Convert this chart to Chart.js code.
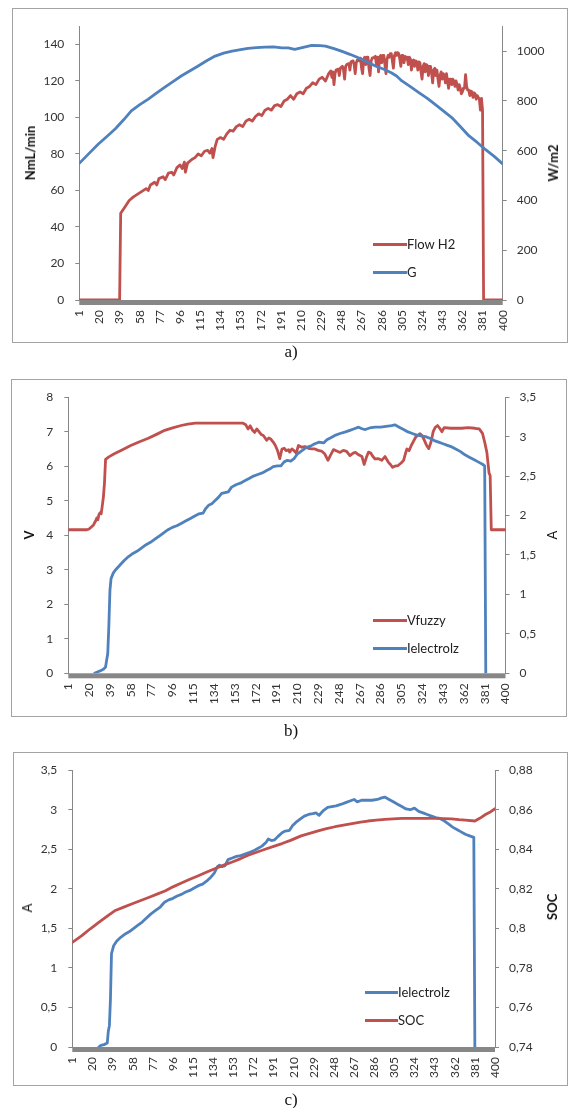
<!DOCTYPE html>
<html>
<head>
<meta charset="utf-8">
<script src="https://cdn.jsdelivr.net/npm/chart.js@4/dist/chart.umd.min.js"></script>
<style>
  html, body { margin: 0; padding: 0; background: #fff; }
  body { width: 574px; height: 1108px; position: relative; overflow: hidden; font-family: Lato, "Open Sans", sans-serif; }
  .frame { position: absolute; border: 1px solid #a3a3a3; box-sizing: border-box; }
  canvas.plot { position: absolute; }
  .atitle { position: absolute; font-size: 13px; color: #111; white-space: nowrap; transform: translate(-50%, -50%) rotate(-90deg); }
  .atitle.bold { font-weight: bold; }
  .lg-line { position: absolute; height: 3px; }
  .lg-text { position: absolute; font-size: 13px; color: #222; white-space: nowrap; transform: translateY(-50%); }
  .cap { position: absolute; font-family: "Liberation Serif", "DejaVu Serif", serif; font-size: 17px; color: #111; transform: translate(-50%, -50%); }
</style>
</head>
<body>
<script>
// ---- shared category ticks (every 19th sample) ----
const xTickLabels = [1,20,39,58,77,96,115,134,153,172,191,210,229,248,267,286,305,324,343,362,381,400];

// ---- a) hydrogen flow and irradiance ----
const flowTicks = [0,20,40,60,80,100,120,140];
const irradianceTicks = [0,200,400,600,800,1000];
const flowH2 = [
  [1,0],[39,0],[40,47.5],[44,51],[48,54.5],[52,56.5],[56,58],[60,59.5],[64,61],[66,60],[68,63],
  [72,64.5],[74,63],[76,66.5],[80,67.5],[82,66],[85,69.5],[88,70],[90,68.5],[93,72.5],[96,74],
  [98,72],[100,75.5],[101,70],[103,75],[107,77],[110,78],[113,80],[116,79],[119,81.5],[122,82],
  [124,80.5],[126,83],[127,78],[129,84],[131,88],[134,89],[137,88],[140,91],[143,93],[146,92.5],
  [149,95],[152,96],[155,95],[158,98],[161,99],[164,98],[167,100.5],[170,102],[173,101],[176,104],
  [179,105],[182,104],[185,106.5],[188,107],[191,106],[194,109],[197,110],[200,112],[203,110],
  [206,113],[209,114],[212,113],[215,116],[218,117],[221,119],[224,118],[227,121],[230,122],
  [233,120],[236,124],[238,125.5],[239,122],[240,125],[241,118],[242,124],[243,126],[245,126.5],
  [246,123],[247,127],[249,128],[250,126],[251,121],[252,128],[253,129],[255,129.5],[256,126],
  [257,130.5],[259,131],[260,129],[261,124],[262,130],[263,131.5],[265,131],[266,132.5],[267,127],
  [268,124],[269,132],[270,133],[271,129],[272,133],[273,133],[274,127],[275,123],[276,131],
  [277,132.5],[279,133],[280,133.5],[281,129],[282,133],[283,125],[284,133],[285,134],[286,130],
  [287,134],[288,134],[289,129],[290,124],[291,132],[292,134],[293,133],[294,135],[295,135],
  [296,131],[297,127],[298,134],[299,135.5],[300,134],[301,135.5],[302,135],[303,132],[304,128],
  [305,134],[306,134],[307,130],[308,133.5],[309,132],[310,133],[311,129],[312,133],[313,132],
  [314,126],[315,131],[316,131.5],[317,128],[318,131],[319,130.5],[320,126],[321,130.5],[322,130],
  [323,125],[324,121],[325,128],[326,129.5],[327,125],[328,129],[329,128.5],[330,123],[331,128],
  [332,128],[333,124],[334,119],[335,126],[336,127],[337,123],[338,126],[339,121],[340,117],
  [341,123],[342,125],[343,121],[344,124],[345,123],[346,119],[347,124],[348,120],[349,116],
  [350,121],[351,121],[352,118],[353,121],[354,120],[355,117],[356,120],[357,118],[358,115],
  [359,118],[360,116],[361,113],[362,114],[363,116],[364,116],[365,123.5],[366,117],[367,115],
  [368,115],[369,112],[370,114.5],[371,114],[372,111],[373,113.5],[374,113],[375,110],[376,112],
  [377,111],[378,110],[379,104],[380,110.5],[381,104],[382,0],[400,0]
];
const irradianceG = [
  [1,549],[10,588],[19,627],[27,657],[35,688],[43,725],[50,760],[58,785],[66,807],[74,832],
  [82,856],[90,879],[97,900],[105,920],[113,940],[121,961],[129,980],[137,992],[145,1000],
  [153,1006],[160,1011],[168,1014],[176,1016],[184,1017],[192,1013],[198,1013],[204,1007],
  [212,1015],[220,1023],[228,1022],[233,1020],[241,1010],[248,1000],[256,987],[264,973],
  [272,957],[280,940],[288,927],[295,913],[300,900],[305,880],[313,857],[321,833],[329,810],
  [336,787],[344,760],[352,733],[360,697],[368,660],[376,633],[383,607],[392,577],[400,547]
];

// ---- b) fuzzy voltage and electrolyser current ----
const voltTicks = [0,1,2,3,4,5,6,7,8];
const currentTicks = [0,0.5,1,1.5,2,2.5,3,3.5];
const vFuzzy = [
  [1,4.16],[18,4.16],[20,4.18],[22,4.24],[24,4.3],[26,4.42],[27,4.5],[28,4.45],[29,4.6],[30,4.65],
  [31,4.62],[32,4.85],[33,5.1],[34,5.5],[35,6.2],[38,6.27],[43,6.36],[50,6.47],[58,6.6],[66,6.71],
  [74,6.81],[82,6.93],[89,7.04],[97,7.12],[104,7.18],[110,7.22],[117,7.25],[160,7.25],[163,7.2],
  [165,7.08],[167,7.17],[169,7.05],[171,6.98],[173,7.08],[175,7.0],[177,6.92],[179,6.89],[181,6.8],
  [182,6.75],[184,6.82],[186,6.78],[188,6.7],[190,6.6],[192,6.45],[194,6.22],[196,6.5],[198,6.52],
  [200,6.45],[202,6.48],[203,6.41],[205,6.5],[207,6.45],[209,6.38],[211,6.6],[214,6.55],[217,6.57],
  [220,6.52],[223,6.5],[226,6.5],[229,6.46],[232,6.44],[235,6.36],[238,6.17],[240,6.3],[243,6.48],
  [246,6.44],[249,6.4],[252,6.46],[255,6.43],[258,6.31],[261,6.38],[263,6.4],[266,6.33],[269,6.28],
  [271,6.05],[273,6.25],[275,6.41],[277,6.38],[279,6.28],[281,6.21],[284,6.22],[287,6.17],[290,6.28],
  [293,6.12],[295,6.05],[297,5.97],[299,6.0],[302,6.02],[305,6.1],[307,6.17],[309,6.4],[310,6.5],
  [312,6.45],[314,6.6],[316,6.72],[318,6.84],[320,6.9],[322,6.94],[324,6.88],[326,6.75],[328,6.6],
  [330,6.51],[332,6.7],[334,7.0],[336,7.13],[338,7.18],[340,7.1],[342,7.0],[344,7.12],[350,7.1],
  [360,7.1],[366,7.12],[372,7.1],[376,7.08],[379,6.95],[381,6.7],[383,6.4],[385,5.8],[386,5.73],
  [387,4.16],[400,4.16]
];
const iElectrolzB = [
  [25,0],[28,0.02],[30,0.03],[33,0.05],[35,0.08],[37,0.25],[38,0.6],[39,1.05],[40,1.2],
  [42,1.27],[44,1.31],[48,1.37],[52,1.43],[56,1.48],[60,1.52],[64,1.55],[68,1.59],[72,1.63],
  [76,1.66],[80,1.7],[84,1.74],[88,1.78],[92,1.82],[96,1.85],[100,1.87],[104,1.9],[108,1.93],
  [112,1.96],[116,1.99],[120,2.02],[124,2.03],[126,2.08],[129,2.13],[132,2.15],[135,2.19],
  [138,2.23],[141,2.28],[144,2.29],[147,2.3],[150,2.36],[154,2.39],[158,2.41],[162,2.44],
  [166,2.47],[170,2.5],[174,2.52],[178,2.54],[182,2.57],[186,2.6],[188,2.62],[192,2.63],[195,2.63],
  [198,2.68],[201,2.7],[204,2.69],[207,2.72],[210,2.78],[214,2.82],[218,2.86],[222,2.88],[226,2.91],
  [230,2.93],[234,2.92],[237,2.96],[241,2.99],[245,3.02],[249,3.04],[254,3.06],[258,3.08],[262,3.1],
  [266,3.12],[269,3.1],[272,3.09],[276,3.11],[281,3.12],[286,3.12],[291,3.13],[296,3.14],[299,3.15],
  [303,3.12],[307,3.09],[311,3.06],[315,3.04],[319,3.02],[323,3.01],[327,3.0],[331,2.98],[335,2.95],
  [339,2.93],[343,2.91],[347,2.89],[351,2.87],[355,2.84],[359,2.81],[363,2.77],[367,2.74],[371,2.71],
  [375,2.68],[379,2.65],[381,2.63],[382,0]
];

// ---- c) electrolyser current and battery state of charge ----
const socTicks = [0.74,0.76,0.78,0.8,0.82,0.84,0.86,0.88];
const iElectrolzC = [
  [26,0],[28,0.02],[31,0.03],[34,0.05],[35,0.2],[36,0.27],[37,0.6],[38,1.18],[40,1.28],
  [43,1.34],[47,1.39],[51,1.43],[55,1.46],[59,1.5],[63,1.54],[67,1.58],[71,1.63],[75,1.68],[79,1.72],
  [84,1.77],[88,1.83],[92,1.86],[96,1.88],[100,1.91],[104,1.93],[108,1.96],[112,1.98],[116,2.01],
  [120,2.04],[124,2.06],[128,2.1],[132,2.15],[135,2.2],[138,2.28],[140,2.3],[142,2.28],[145,2.29],
  [148,2.37],[152,2.39],[156,2.41],[160,2.42],[164,2.44],[168,2.46],[172,2.48],[176,2.51],[180,2.54],
  [184,2.59],[186,2.63],[189,2.61],[192,2.62],[195,2.66],[199,2.71],[202,2.73],[206,2.74],[209,2.8],
  [212,2.84],[216,2.88],[220,2.92],[224,2.94],[228,2.95],[231,2.96],[234,2.93],[238,2.99],[242,3.03],
  [246,3.04],[250,3.05],[255,3.07],[259,3.09],[263,3.11],[267,3.13],[270,3.1],[274,3.12],[279,3.12],
  [284,3.12],[289,3.13],[293,3.15],[296,3.16],[300,3.13],[304,3.1],[308,3.07],[312,3.04],[316,3.01],
  [320,3.0],[324,3.02],[328,2.98],[332,2.96],[336,2.94],[340,2.92],[344,2.9],[348,2.89],[352,2.86],
  [356,2.82],[360,2.78],[364,2.75],[368,2.72],[372,2.69],[376,2.67],[380,2.65],[381,0]
];
const soc = [
  [1,0.7929],[10,0.7963],[18,0.7998],[26,0.803],[34,0.8062],[41,0.8089],[49,0.8106],[57,0.8123],
  [65,0.814],[73,0.8156],[81,0.8173],[89,0.819],[96,0.821],[104,0.8229],[112,0.8248],[120,0.8266],
  [128,0.8285],[136,0.8303],[144,0.832],[152,0.8336],[160,0.8353],[167,0.837],[175,0.8385],[183,0.84],
  [191,0.8415],[199,0.8429],[207,0.8445],[217,0.8468],[225,0.848],[233,0.8493],[241,0.8504],
  [249,0.8514],[257,0.8522],[265,0.853],[273,0.8537],[280,0.8543],[288,0.8547],[296,0.8551],
  [304,0.8554],[312,0.8556],[328,0.8556],[344,0.8556],[359,0.8554],[366,0.855],[372,0.8548],
  [381,0.8543],[386,0.8558],[391,0.8576],[396,0.859],[400,0.8605]
];

// ---- drawing helpers ----
const RED = '#C0504D';
const BLUE = '#4F81BD';
const AXIS_GREY = '#878787';
const TICK_FONT = { family: 'Lato', size: 12 };
const plain = v => String(v);
const comma = v => String(+v.toFixed(2)).replace('.', ',');

// thick grey strip under the category axis
const baseBand = {
  id: 'baseBand',
  beforeDatasetsDraw(chart) {
    const { ctx, chartArea: a } = chart;
    ctx.save();
    ctx.fillStyle = '#878787';
    ctx.fillRect(a.left, a.bottom, a.right - a.left, 5);
    ctx.restore();
  }
};

function valueAxis(position, min, max, ticks, fmt, width) {
  return {
    type: 'linear', position, min, max,
    afterBuildTicks: s => { s.ticks = ticks.map(v => ({ value: v })); },
    afterFit: s => { s.width = width; },
    border: { display: true, color: AXIS_GREY, width: 1 },
    grid: { display: true, drawOnChartArea: false, drawTicks: true, tickLength: 4, color: AXIS_GREY },
    ticks: { color: '#333', font: TICK_FONT, padding: position === 'left' ? 11 : 10, callback: fmt }
  };
}

function sampleAxis(height) {
  return {
    type: 'linear', min: 1, max: 400,
    afterBuildTicks: s => { s.ticks = xTickLabels.map(v => ({ value: v })); },
    afterFit: s => { s.height = height; },
    grid: { display: false, drawTicks: false },
    border: { display: false },
    ticks: { autoSkip: false, minRotation: 90, maxRotation: 90, padding: 10, color: '#333', font: TICK_FONT, callback: plain }
  };
}

function series(label, pairs, color, axis, order) {
  return {
    label, yAxisID: axis, order,
    data: pairs.map(([x, y]) => ({ x, y })),
    borderColor: color, backgroundColor: color,
    borderWidth: 2.8, pointRadius: 0, tension: 0, fill: false,
    borderJoinStyle: 'round', borderCapStyle: 'round'
  };
}

function el(tag, cls, css, text) {
  const e = document.createElement(tag);
  if (cls) e.className = cls;
  Object.assign(e.style, css);
  if (text !== undefined) e.textContent = text;
  document.body.appendChild(e);
  return e;
}

function panel(p) {
  const [bx, by, bw, bh] = p.box;
  el('div', 'frame', { left: bx + 'px', top: by + 'px', width: bw + 'px', height: bh + 'px' });
  const cv = el('canvas', 'plot', { left: bx + 'px', top: by + 'px', width: bw + 'px', height: bh + 'px' });
  cv.width = bw; cv.height = bh;
  new Chart(cv, {
    type: 'line',
    data: { datasets: p.datasets },
    plugins: [baseBand],
    options: {
      responsive: false, animation: false, devicePixelRatio: 1,
      layout: { padding: { top: p.padTop, left: 0, right: 0, bottom: 0 } },
      plugins: { legend: { display: false }, tooltip: { enabled: false } },
      scales: {
        x: sampleAxis(p.xHeight),
        y: valueAxis('left', p.left.min, p.left.max, p.left.ticks, p.left.fmt, p.left.width),
        y2: valueAxis('right', p.right.min, p.right.max, p.right.ticks, p.right.fmt, p.right.width)
      }
    }
  });
  // rotated axis titles
  p.titles.forEach(t => el('div', 'atitle' + (t.bold ? ' bold' : ''), { left: t.x + 'px', top: t.y + 'px' }, t.text));
  // legend inside the plot, listed in series order
  p.legendOrder.forEach((ds, k) => {
    const y = p.legend.y[k];
    el('div', 'lg-line', { left: p.legend.x + 'px', top: (y - 1.5) + 'px', width: p.legend.len + 'px', background: ds.borderColor });
    el('div', 'lg-text', { left: (p.legend.x + p.legend.len) + 'px', top: y + 'px' }, ds.label);
  });
  el('div', 'cap', { left: p.caption.x + 'px', top: p.caption.y + 'px' }, p.caption.text);
}

// a)
const dsFlow = series('Flow H2', flowH2, RED, 'y', 2);
const dsG = series('G', irradianceG, BLUE, 'y2', 1);
panel({
  box: [12, 8, 556, 335], padTop: 17, xHeight: 43,
  left: { min: 0, max: 150, ticks: flowTicks, fmt: plain, width: 67.3 },
  right: { min: 0, max: 1100, ticks: irradianceTicks, fmt: plain, width: 65.3 },
  datasets: [dsFlow, dsG], legendOrder: [dsFlow, dsG],
  titles: [{ text: 'NmL/min', x: 30, y: 153, bold: true }, { text: 'W/m2', x: 553, y: 163, bold: true }],
  legend: { x: 373, len: 34, y: [244, 272.3] },
  caption: { text: 'a)', x: 291, y: 352 }
});

// b)
const dsV = series('Vfuzzy', vFuzzy, RED, 'y', 2);
const dsIb = series('Ielectrolz', iElectrolzB, BLUE, 'y2', 1);
panel({
  box: [11, 379, 556, 338], padTop: 17.7, xHeight: 43.7,
  left: { min: 0, max: 8, ticks: voltTicks, fmt: plain, width: 57.3 },
  right: { min: 0, max: 3.5, ticks: currentTicks, fmt: comma, width: 61.5 },
  datasets: [dsV, dsIb], legendOrder: [dsV, dsIb],
  titles: [{ text: 'V', x: 29, y: 535, bold: true }, { text: 'A', x: 552, y: 535, bold: false }],
  legend: { x: 373, len: 34, y: [620, 648] },
  caption: { text: 'b)', x: 291, y: 731 }
});

// c)
const dsIc = series('Ielectrolz', iElectrolzC, BLUE, 'y', 2);
const dsSoc = series('SOC', soc, RED, 'y2', 1);
panel({
  box: [13, 752, 555, 334], padTop: 17.3, xHeight: 39,
  left: { min: 0, max: 3.5, ticks: currentTicks, fmt: comma, width: 59.3 },
  right: { min: 0.74, max: 0.88, ticks: socTicks, fmt: comma, width: 73 },
  datasets: [dsIc, dsSoc], legendOrder: [dsIc, dsSoc],
  titles: [{ text: 'A', x: 27, y: 908, bold: false }, { text: 'SOC', x: 552, y: 907, bold: true }],
  legend: { x: 365, len: 33, y: [992, 1020] },
  caption: { text: 'c)', x: 291, y: 1100 }
});
</script>
</body>
</html>
